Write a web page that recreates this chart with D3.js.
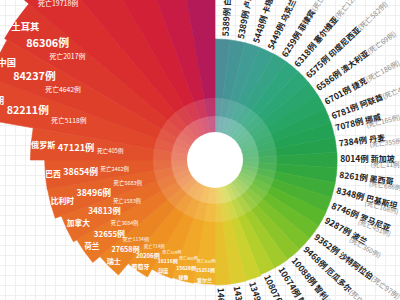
<!DOCTYPE html>
<html><head><meta charset="utf-8">
<script src="https://cdn.jsdelivr.net/npm/d3@7"></script>
<style>body{margin:0;background:#fff}svg{display:block}</style>
</head><body>
<svg id="c" width="400" height="300"></svg>
<script>
// ---- data ----
const rightNames  = ["白俄罗斯","卢森堡","卡塔尔","乌克兰","菲律宾","塞尔维亚","印度尼西亚","澳大利亚","捷克","阿联酋","挪威","丹麦","新加坡","墨西哥","巴基斯坦","罗马尼亚","波兰","沙特阿拉伯","厄瓜多尔","智利","韩国","日本","以色列","瑞典","奥地利"];
const rightCases  = [5389,5389,5448,5449,6259,6318,6575,6586,6701,6781,7078,7384,8014,8261,8348,8746,9287,9362,9468,10088,10674,10807,13491,14385,14673];
const rightDeaths = [51,75,8,141,409,122,582,69,186,41,165,355,11,686,168,451,360,97,474,133,236,236,172,1540,470];
const leftNames  = ["爱尔兰","秘鲁","印度","葡萄牙","瑞士","荷兰","加拿大","比利时","巴西","俄罗斯","伊朗","中国","土耳其","法国","德国","意大利","西班牙","美国"];
const leftCases  = [15251,15628,16116,20206,27658,32655,34813,38496,38654,47121,82211,84237,86306,152894,145184,178972,198674,759086];
const leftDeaths = [610,400,519,714,1134,3684,1583,5683,2462,405,5118,4642,2017,19718,4586,23660,20453,40661];

// ---- layout ----
const W=400,H=300,cx=215,cy=160,hole=28;
const FONT='"Noto Sans CJK SC","Noto Sans",sans-serif';
const svg=d3.select("#c");

// graph-paper background
const grid=svg.append("g").attr("stroke","#efefef").attr("stroke-width",1);
grid.selectAll("line.v").data(d3.range(5,W,10)).join("line").attr("x1",d=>d+0.5).attr("x2",d=>d+0.5).attr("y1",0).attr("y2",H);
grid.selectAll("line.h").data(d3.range(5,H,10)).join("line").attr("y1",d=>d+0.5).attr("y2",d=>d+0.5).attr("x1",0).attr("x2",W);

const angR=d3.scaleBand().domain(d3.range(rightNames.length)).range([0,Math.PI]);
const angL=d3.scaleBand().domain(d3.range(leftNames.length)).range([Math.PI,2*Math.PI]);
const radR=d3.scaleLinear().domain([5389,14673]).range([121,125]);
const radL=d3.scalePow().exponent(0.7).domain([0,90000,200000]).range([74,248,292]);
const color=d3.scaleLinear()
  .domain([0,20,40,60,80,100,120,140,155,165,175,185,200,215,230,245,260,275,290,305,320,335,345,355,360])
  .range(["#4f8b98","#3f9e95","#30a67f","#27a566","#22a050","#36a83c","#5cb82a","#8cc42a","#b5cf2c","#d4d230","#e6c42e","#f0b22a","#f1a125","#ee9122","#ea7d24","#e76c27","#e45e29","#e1502a","#df432b","#dc372c","#d72a2e","#d22036","#c81c44","#b41a57","#b01a5a"])
  .interpolate(d3.interpolateRgb);

const right=rightNames.map((n,i)=>({name:n,cases:rightCases[i],deaths:rightDeaths[i],a0:angR(i),a1:angR(i)+angR.bandwidth(),r:radR(rightCases[i]),i}));
const left=leftNames.map((n,i)=>({name:n,cases:leftCases[i],deaths:leftDeaths[i],a0:angL(i),a1:angL(i)+angL.bandwidth(),r:radL(leftCases[i]),i}));
const all=right.concat(left);
const mid=d=>(d.a0+d.a1)/2;
const deg=a=>a*180/Math.PI;

const arc=d3.arc().innerRadius(0).outerRadius(d=>d.r).startAngle(d=>d.a0).endAngle(d=>d.a1);
const g=svg.append("g").attr("transform",`translate(${cx},${cy})`);
g.selectAll("path.bar").data(all).join("path").attr("class","bar")
  .attr("d",arc).attr("fill",d=>color(deg(mid(d)))).attr("stroke",d=>color(deg(mid(d)))).attr("stroke-width",0.6);
// light inner rings
g.append("circle").attr("r",62).attr("fill","#fff").attr("opacity",0.13);
g.append("circle").attr("r",44).attr("fill","#fff").attr("opacity",0.2);
g.append("circle").attr("r",hole).attr("fill","#fff");

// right-side labels (radial, dark)
const lab=svg.append("g").style("font-family",FONT);
right.forEach(d=>{
  const a=mid(d), r=d.r+3;
  const x=cx+r*Math.sin(a), y=cy-r*Math.cos(a);
  const gg=lab.append("g").attr("transform",`translate(${x},${y}) rotate(${deg(a)-90})`);
  const two=d.i>=10&&d.i<=16;
  const t=gg.append("text").attr("dy","0.35em").attr("y",two?-3.5:0);
  const c=t.append("tspan").attr("font-weight","bold").attr("fill","#222").style("font-size","8.5px").text(d.cases+"例");
  t.append("tspan").attr("font-weight","bold").attr("fill","#222").style("font-size","8px").attr("dx",2).text(d.name);
  if(!two){
    t.append("tspan").attr("fill","#8a8a8a").style("font-size","7px").text(`(死亡${d.deaths}例)`);
  } else {
    const cw=c.node().getComputedTextLength();
    gg.append("text").attr("x",cw+2).attr("y",4.5).attr("dy","0.35em").attr("fill","#8a8a8a").style("font-size","6.5px").text(`(死亡${d.deaths}例)`);
  }
});

// left-side labels (horizontal, white, stacked along the radius)
const fsCount=d3.scaleLinear().domain([15000,20000,30000,40000,90000]).range([4.8,6,7.5,9,11]).clamp(true);
const fsName=d3.scaleLinear().domain([15000,20000,30000,90000]).range([5,6,7.5,9.5]).clamp(true);
const fsDeath=d3.scaleLinear().domain([15000,30000,90000]).range([4,5.2,7]).clamp(true);
function half(w,h,ux,uy){
  const a=Math.abs(ux)>1e-6?(w/2)/Math.abs(ux):Infinity;
  const b=Math.abs(uy)>1e-6?(h/2)/Math.abs(uy):Infinity;
  return Math.min(a,b);
}
left.forEach(d=>{
  const a=mid(d), sx=Math.sin(a), sy=-Math.cos(a);
  const ux=-sx, uy=-sy;
  const items=[
    {text:d.name,fs:fsName(d.cases),w:"bold"},
    {text:d.cases+"例",fs:fsCount(d.cases),w:"bold"},
    {text:`死亡${d.deaths}例`,fs:fsDeath(d.cases),w:"normal"}
  ];
  let r0=d.r;
  items.forEach(it=>{
    const t=lab.append("text").attr("fill","#fff").attr("font-weight",it.w)
      .style("font-size",it.fs+"px").attr("text-anchor","middle").attr("dy","0.35em").text(it.text);
    const w=t.node().getComputedTextLength(), h=it.fs*1.4;
    const hh=half(w,h,ux,uy);
    const rc=r0-hh;
    t.attr("x",cx+rc*sx).attr("y",cy+rc*sy);
    r0=rc-hh-2.5;
  });
});
</script>
</body></html>
